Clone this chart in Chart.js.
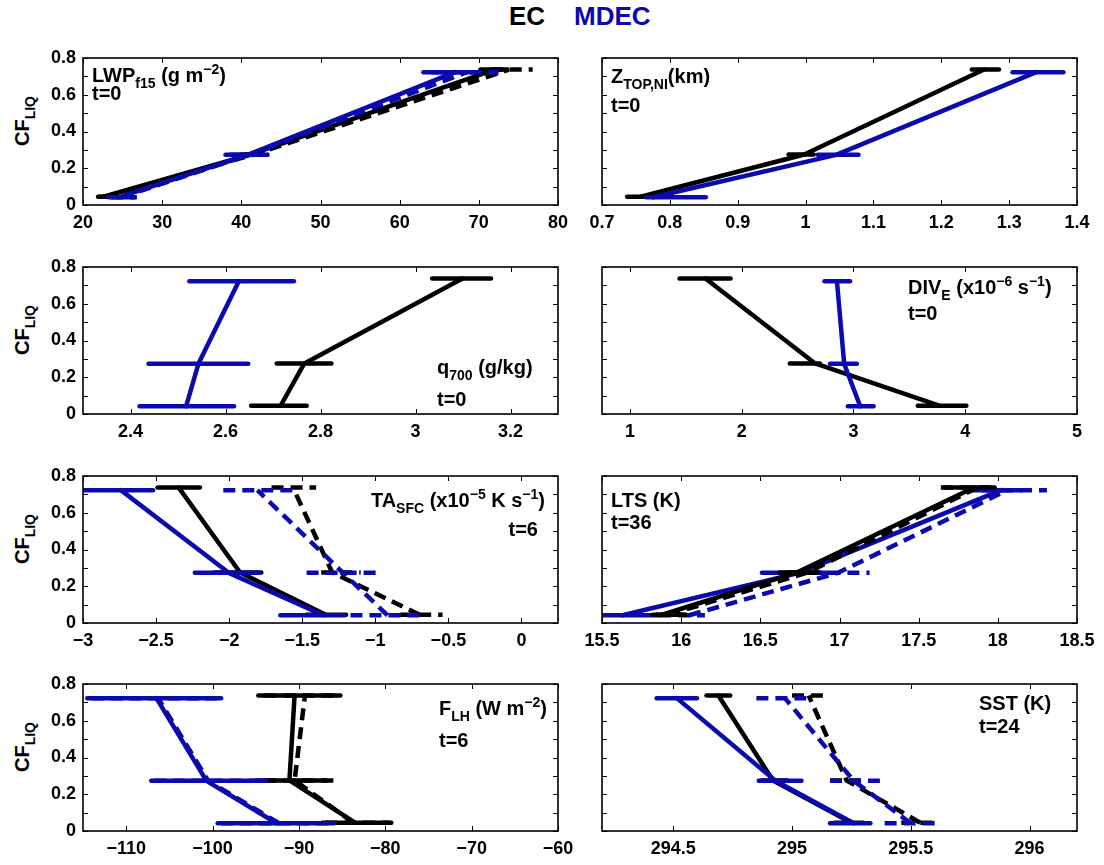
<!DOCTYPE html>
<html>
<head>
<meta charset="utf-8">
<title>EC MDEC</title>
<script src="https://cdn.jsdelivr.net/npm/chart.js@4.4.1/dist/chart.umd.min.js"></script>
<style>
  html, body { margin: 0; padding: 0; background: #fff; }
  body { width: 1104px; height: 865px; position: relative; overflow: hidden;
         font-family: "Liberation Sans", Arial, Helvetica, sans-serif; font-weight: bold; color: #000; }
  canvas { position: absolute; }
  .t { position: absolute; font-size: 20px; line-height: 22px; white-space: nowrap; }
  .sb { position: relative; top: 6px; font-size: 14px; }
  .sp { position: relative; top: -8px; font-size: 14px; }
  .ylab { position: absolute; font-size: 20px; line-height: 22px; white-space: nowrap;
          transform: translate(-50%, -50%) rotate(-90deg); }
  .ttl { position: absolute; top: 1px; font-size: 26px; line-height: 30px; }
</style>
</head>
<body>
<div class="ttl" style="left:509px">EC</div>
<div class="ttl" style="left:574px;color:#0a0aaf">MDEC</div>

<div class="ylab" style="left:23px;top:121px">CF<span class="sb">LIQ</span></div>
<div class="ylab" style="left:23px;top:330px">CF<span class="sb">LIQ</span></div>
<div class="ylab" style="left:23px;top:539px">CF<span class="sb">LIQ</span></div>
<div class="ylab" style="left:23px;top:747px">CF<span class="sb">LIQ</span></div>

<div id="panels"></div>

<div class="t" style="left:92px;top:64px">LWP<span class="sb">f15</span> (g m<span class="sp">−2</span>)</div>
<div class="t" style="left:92px;top:82px">t=0</div>
<div class="t" style="left:611px;top:65px">Z<span class="sb">TOP,NI</span>(km)</div>
<div class="t" style="left:611px;top:94px">t=0</div>
<div class="t" style="left:437px;top:356px">q<span class="sb">700</span> (g/kg)</div>
<div class="t" style="left:437px;top:388px">t=0</div>
<div class="t" style="left:908px;top:276px">DIV<span class="sb">E</span> (x10<span class="sp">−6</span> s<span class="sp">−1</span>)</div>
<div class="t" style="left:908px;top:302px">t=0</div>
<div class="t" style="right:559px;top:489px">TA<span class="sb">SFC</span> (x10<span class="sp">−5</span> K s<span class="sp">−1</span>)</div>
<div class="t" style="right:566px;top:518px">t=6</div>
<div class="t" style="left:611px;top:489px">LTS (K)</div>
<div class="t" style="left:611px;top:511px">t=36</div>
<div class="t" style="left:439px;top:697px">F<span class="sb">LH</span> (W m<span class="sp">−2</span>)</div>
<div class="t" style="left:439px;top:729px">t=6</div>
<div class="t" style="left:979px;top:692px">SST (K)</div>
<div class="t" style="left:979px;top:715px">t=24</div>

<script>
// CF_LIQ bins (y values) and y ticks
const cfTicks = [0, 0.1, 0.2, 0.3, 0.4, 0.5, 0.6, 0.7, 0.8];
const cfEC = [0.045, 0.275, 0.737];
const cfMDEC = [0.042, 0.273, 0.723];

// LWP_f15 (g m-2), t=0
const lwpTicks = [20, 30, 40, 50, 60, 70, 80];
const lwpEC = [22.6, 41.2, 72.0], lwpECLo = [21.9, 40.0, 70.2], lwpECHi = [23.8, 42.6, 73.6];
const lwpECd = [22.8, 41.6, 73.8], lwpECdLo = [22.0, 40.4, 71.5], lwpECdHi = [24.0, 43.0, 76.8];
const lwpMD = [24.5, 40.8, 67.0], lwpMDLo = [23.2, 38.0, 63.0], lwpMDHi = [26.5, 43.3, 69.5];
const lwpMDd = [24.8, 41.0, 68.5], lwpMDdLo = [23.5, 38.5, 64.0], lwpMDdHi = [26.8, 43.5, 72.5];

// Z_TOP,NI (km), t=0
const ztopTicks = [0.7, 0.8, 0.9, 1, 1.1, 1.2, 1.3, 1.4];
const ztopEC = [0.757, 0.998, 1.263], ztopECLo = [0.737, 0.975, 1.245], ztopECHi = [0.765, 1.012, 1.285];
const ztopMD = [0.775, 1.045, 1.34], ztopMDLo = [0.765, 1.018, 1.305], ztopMDHi = [0.853, 1.078, 1.38];

// q700 (g/kg), t=0
const qTicks = [2.4, 2.6, 2.8, 3, 3.2];
const qEC = [2.716, 2.766, 3.099], qECLo = [2.654, 2.708, 3.035], qECHi = [2.771, 2.823, 3.159];
const qMD = [2.517, 2.543, 2.628], qMDLo = [2.419, 2.438, 2.524], qMDHi = [2.618, 2.648, 2.744];

// DIV_E (x10-6 s-1), t=0
const divTicks = [1, 2, 3, 4, 5];
const divEC = [3.767, 2.657, 1.676], divECLo = [3.575, 2.43, 1.444], divECHi = [4.01, 2.70, 1.9];
const divMD = [3.06, 2.917, 2.852], divMDLo = [2.95, 2.79, 2.74], divMDHi = [3.18, 3.03, 2.97];

// TA_SFC (x10-5 K s-1), t=6
const taTicks = [-3, -2.5, -2, -1.5, -1, -0.5, 0];
const taEC = [-1.339, -1.925, -2.345], taECLo = [-1.47, -2.10, -2.49], taECHi = [-1.20, -1.78, -2.20];
const taECd = [-0.696, -1.295, -1.563], taECdLo = [-0.83, -1.37, -1.71], taECdHi = [-0.54, -1.10, -1.405];
const taMD = [-1.356, -2.003, -2.741], taMDLo = [-1.65, -2.235, -3.0], taMDHi = [-1.21, -1.795, -2.52];
const taMDd = [-0.916, -1.221, -1.807], taMDdLo = [-1.17, -1.47, -2.04], taMDdHi = [-0.67, -0.99, -1.54];

// LTS (K), t=36
const ltsTicks = [15.5, 16, 16.5, 17, 17.5, 18, 18.5];
const ltsEC = [15.88, 16.73, 17.85], ltsECLo = [15.82, 16.62, 17.66], ltsECHi = [16.02, 16.85, 17.98];
const ltsECd = [15.92, 16.8, 17.87], ltsECdLo = [15.84, 16.68, 17.64], ltsECdHi = [16.05, 16.92, 18.0];
const ltsMD = [15.63, 16.745, 18.02], ltsMDLo = [15.5, 16.51, 17.83], ltsMDHi = [15.86, 16.93, 18.15];
const ltsMDd = [16.05, 16.99, 18.06], ltsMDdLo = [15.86, 16.69, 17.9], ltsMDdHi = [16.15, 17.19, 18.31];

// F_LH (W m-2), t=6
const flhTicks = [-110, -100, -90, -80, -70, -60];
const flhEC = [-83.5, -91.1, -90.5], flhECLo = [-87.3, -95.0, -94.7], flhECHi = [-79.3, -86.8, -85.2];
const flhECd = [-83.7, -90.5, -89.3], flhECdLo = [-87.0, -94.0, -94.0], flhECdHi = [-79.5, -86.0, -85.5];
const flhMD = [-92.6, -100.7, -106.5], flhMDLo = [-99.4, -107.1, -114.5], flhMDHi = [-85.9, -93.8, -99.0];
const flhMDd = [-92.3, -100.5, -106.3], flhMDdLo = [-99.0, -106.8, -114.0], flhMDdHi = [-86.2, -94.0, -99.5];

// SST (K), t=24
const sstTicks = [294.5, 295, 295.5, 296];
const sstEC = [295.25, 294.92, 294.69], sstECLo = [295.18, 294.87, 294.64], sstECHi = [295.3, 294.98, 294.74];
const sstECd = [295.54, 295.23, 295.07], sstECdLo = [295.46, 295.16, 295.0], sstECdHi = [295.6, 295.3, 295.13];
const sstMD = [295.26, 294.93, 294.515], sstMDLo = [295.16, 294.86, 294.43], sstMDHi = [295.33, 295.04, 294.6];
const sstMDd = [295.5, 295.26, 294.97], sstMDdLo = [295.39, 295.16, 294.85], sstMDdHi = [295.61, 295.37, 295.06];

const BLACK = '#000000';
const BLUE = '#0a0aaf';

// series: [model, dashed, mean, lo, hi]  (listed bottom layer first)
const panels = [
  { row: 0, col: 0, min: 20, max: 80, ticks: lwpTicks, series: [
    ['EC', false, lwpEC, lwpECLo, lwpECHi], ['EC', true, lwpECd, lwpECdLo, lwpECdHi],
    ['MDEC', false, lwpMD, lwpMDLo, lwpMDHi], ['MDEC', true, lwpMDd, lwpMDdLo, lwpMDdHi]] },
  { row: 0, col: 1, min: 0.7, max: 1.4, ticks: ztopTicks, series: [
    ['EC', false, ztopEC, ztopECLo, ztopECHi], ['MDEC', false, ztopMD, ztopMDLo, ztopMDHi]] },
  { row: 1, col: 0, min: 2.3, max: 3.3, ticks: qTicks, series: [
    ['EC', false, qEC, qECLo, qECHi], ['MDEC', false, qMD, qMDLo, qMDHi]] },
  { row: 1, col: 1, min: 0.75, max: 5, ticks: divTicks, series: [
    ['EC', false, divEC, divECLo, divECHi], ['MDEC', false, divMD, divMDLo, divMDHi]] },
  { row: 2, col: 0, min: -3, max: 0.25, ticks: taTicks, series: [
    ['EC', false, taEC, taECLo, taECHi], ['EC', true, taECd, taECdLo, taECdHi],
    ['MDEC', false, taMD, taMDLo, taMDHi], ['MDEC', true, taMDd, taMDdLo, taMDdHi]] },
  { row: 2, col: 1, min: 15.5, max: 18.5, ticks: ltsTicks, series: [
    ['MDEC', false, ltsMD, ltsMDLo, ltsMDHi], ['MDEC', true, ltsMDd, ltsMDdLo, ltsMDdHi],
    ['EC', false, ltsEC, ltsECLo, ltsECHi], ['EC', true, ltsECd, ltsECdLo, ltsECdHi]] },
  { row: 3, col: 0, min: -115, max: -60, ticks: flhTicks, series: [
    ['EC', false, flhEC, flhECLo, flhECHi], ['EC', true, flhECd, flhECdLo, flhECdHi],
    ['MDEC', false, flhMD, flhMDLo, flhMDHi], ['MDEC', true, flhMDd, flhMDdLo, flhMDdHi]] },
  { row: 3, col: 1, min: 294.2, max: 296.2, ticks: sstTicks, series: [
    ['EC', false, sstEC, sstECLo, sstECHi], ['EC', true, sstECd, sstECdLo, sstECdHi],
    ['MDEC', false, sstMD, sstMDLo, sstMDHi], ['MDEC', true, sstMDd, sstMDdLo, sstMDdHi]] }
];

// layout of the axes boxes (page px)
const rowTop = [58, 267, 476, 684];
const plotH = 147;
const colCanvas = [{ left: 0, width: 580, yw: 83, pr: 22 }, { left: 560, width: 544, yw: 42, pr: 27 }];
const padTop = 10, xh = 34;

const fmt = v => String(v).replace('-', '\u2212');
const tickFont = { family: '"Liberation Sans", Arial, sans-serif', size: 18, weight: 'bold' };

// box around the axes with inward tick marks on all four sides
const frame = {
  id: 'frame',
  afterDatasetsDraw(chart) {
    const { ctx, chartArea: a, scales } = chart;
    ctx.save();
    ctx.strokeStyle = '#000';
    ctx.lineWidth = 1;
    ctx.beginPath();
    scales.x.ticks.forEach(t => {
      const px = Math.round(scales.x.getPixelForValue(t.value)) + 0.5;
      ctx.moveTo(px, a.bottom); ctx.lineTo(px, a.bottom - 5);
      ctx.moveTo(px, a.top); ctx.lineTo(px, a.top + 5);
    });
    scales.y.ticks.forEach(t => {
      const py = Math.round(scales.y.getPixelForValue(t.value)) + 0.5;
      ctx.moveTo(a.left, py); ctx.lineTo(a.left + 5, py);
      ctx.moveTo(a.right, py); ctx.lineTo(a.right - 5, py);
    });
    ctx.stroke();
    ctx.lineWidth = 1.6;
    ctx.strokeRect(a.left, a.top, a.right - a.left, a.bottom - a.top);
    ctx.restore();
  }
};

function lineStyle(color, dashed) {
  return {
    showLine: true, borderColor: color, backgroundColor: color, borderWidth: 4.5,
    borderDash: dashed ? [12, 7] : [], borderCapStyle: dashed ? 'butt' : 'round',
    borderJoinStyle: 'round', pointRadius: 0, pointHoverRadius: 0, fill: false, tension: 0
  };
}

const holder = document.getElementById('panels');
panels.forEach(p => {
  const cc = colCanvas[p.col];
  const canvas = document.createElement('canvas');
  canvas.width = cc.width;
  canvas.height = padTop + plotH + xh;
  canvas.style.left = cc.left + 'px';
  canvas.style.top = (rowTop[p.row] - padTop) + 'px';
  holder.appendChild(canvas);

  const datasets = [];
  p.series.forEach(([model, dashed, mean, lo, hi]) => {
    const cf = model === 'EC' ? cfEC : cfMDEC;
    const color = model === 'EC' ? BLACK : BLUE;
    // horizontal error bars
    lo.forEach((l, i) => {
      datasets.push(Object.assign({ data: [{ x: l, y: cf[i] }, { x: hi[i], y: cf[i] }] }, lineStyle(color, dashed)));
    });
    datasets.push(Object.assign({ data: mean.map((x, i) => ({ x, y: cf[i] })) }, lineStyle(color, dashed)));
  });
  // Chart.js paints dataset 0 on top, so reverse
  datasets.reverse();

  new Chart(canvas, {
    type: 'scatter',
    data: { datasets },
    options: {
      responsive: false,
      animation: false,
      devicePixelRatio: 1,
      layout: { autoPadding: false, padding: { top: padTop, right: cc.pr, bottom: 0, left: 0 } },
      plugins: { legend: { display: false }, tooltip: { enabled: false } },
      scales: {
        x: {
          type: 'linear', min: p.min, max: p.max,
          grid: { display: false, drawTicks: false }, border: { display: false },
          afterBuildTicks: s => { s.ticks = p.ticks.map(v => ({ value: v })); },
          afterFit: s => { s.height = xh; s.paddingLeft = 0; s.paddingRight = 0; },
          ticks: { autoSkip: false, maxRotation: 0, minRotation: 0, padding: 7, color: '#000',
                   font: tickFont, callback: v => fmt(v) }
        },
        y: {
          type: 'linear', min: 0, max: 0.8,
          grid: { display: false, drawTicks: false }, border: { display: false },
          afterBuildTicks: s => { s.ticks = cfTicks.map(v => ({ value: v })); },
          afterFit: s => { s.width = cc.yw; s.paddingTop = 0; s.paddingBottom = 0; },
          ticks: { autoSkip: false, padding: 7, color: '#000', font: tickFont,
                   callback: v => (p.col === 0 && Math.round(v * 10) % 2 === 0) ? fmt(v) : '' }
        }
      }
    },
    plugins: [frame]
  });
});
</script>
</body>
</html>
